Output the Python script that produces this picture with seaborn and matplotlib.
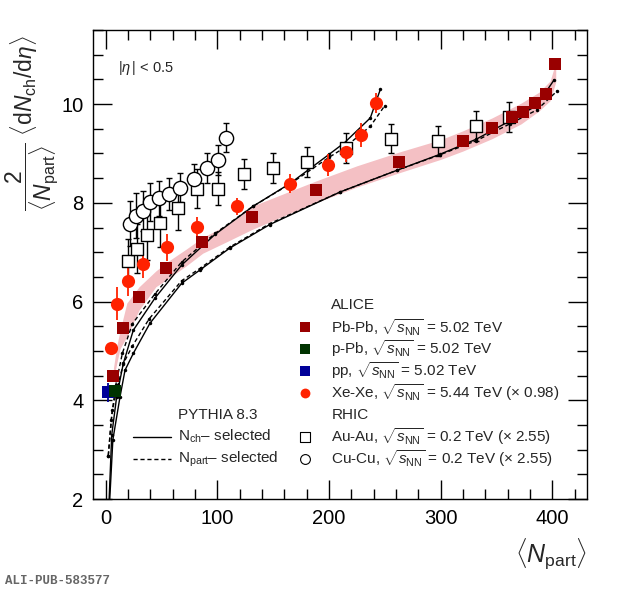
import matplotlib
matplotlib.use("Agg")
import matplotlib.pyplot as plt
import seaborn as sns
from matplotlib.ticker import MultipleLocator

# ALICE data points
pbpb_x = [7.0, 15.3, 30.2, 53.8, 86.6, 131.5, 188, 263, 320, 346, 364, 374, 384, 394, 402]
pbpb_y = [4.49, 5.47, 6.10, 6.67, 7.20, 7.71, 8.26, 8.83, 9.25, 9.51, 9.73, 9.84, 10.02, 10.20, 10.81]

ppb_x = [8.0]
ppb_y = [4.19]
ppb_err = [0.12]

pp_x = [2.0]
pp_y = [4.16]
pp_err = [0.2]

xexe_x = [4.8, 10.5, 19.8, 33.8, 54.7, 82.1, 117.9, 165, 199, 215, 229, 242]
xexe_y = [5.05, 5.96, 6.42, 6.77, 7.10, 7.51, 7.93, 8.39, 8.77, 9.03, 9.37, 10.02]
xexe_err = [0.1, 0.34, 0.3, 0.29, 0.27, 0.21, 0.17, 0.2, 0.22, 0.2, 0.24, 0.2]

# RHIC
auau_x = [19.8, 27.8, 36.8, 48.7, 65.1, 82.1, 100.9, 123.9, 150.1, 180, 214.9, 255.5, 297.3, 331.6, 361.5]
auau_y = [6.82, 7.07, 7.34, 7.60, 7.90, 8.29, 8.29, 8.58, 8.71, 8.83, 9.11, 9.30, 9.25, 9.55, 9.74]
auau_err = [0.45, 0.5, 0.5, 0.5, 0.45, 0.4, 0.34, 0.3, 0.3, 0.3, 0.3, 0.3, 0.3, 0.3, 0.31]

cucu_x = [21.8, 26.9, 33.2, 39.7, 47.8, 56.8, 66.6, 79.1, 90.5, 100.9, 107.8]
cucu_y = [7.58, 7.74, 7.83, 8.02, 8.09, 8.18, 8.31, 8.49, 8.71, 8.87, 9.32]
cucu_err = [0.45, 0.45, 0.4, 0.38, 0.35, 0.32, 0.3, 0.3, 0.3, 0.3, 0.3]

# pink band
band_x = [7, 10, 13, 19, 30, 45, 55, 72, 87, 111, 131, 160, 188, 225, 263, 300, 320, 346, 372, 388, 398, 403]
band_lo = [4.40, 4.75, 5.05, 5.29, 5.83, 6.30, 6.45, 6.72, 6.98, 7.24, 7.46, 7.74, 8.00, 8.32, 8.61,
           8.88, 9.05, 9.30, 9.60, 9.86, 10.07, 10.45]
band_hi = [4.65, 5.10, 5.42, 5.97, 6.30, 6.62, 6.80, 7.06, 7.30, 7.58, 7.93, 8.19, 8.44, 8.75, 9.03,
           9.28, 9.46, 9.72, 10.02, 10.24, 10.47, 10.85]

# PYTHIA 8.3 curves
xe_nch_x = [3.0, 5.5, 9.9, 15.8, 24.8, 44.2, 68.1, 98, 132, 165, 200, 214, 237, 246]
xe_nch_y = [1.9, 3.3, 4.07, 4.74, 5.42, 6.07, 6.74, 7.36, 7.93, 8.39, 8.98, 9.22, 9.72, 10.3]
xe_npart_x = [2.4, 5, 9, 15, 24, 44, 68, 98, 132, 165, 200, 214, 237, 250]
xe_npart_y = [2.88, 3.6, 4.3, 4.95, 5.55, 6.15, 6.8, 7.38, 7.93, 8.38, 8.92, 9.12, 9.55, 9.97]

pb_nch_x = [3.5, 6.5, 12.9, 17.4, 24.8, 39.7, 68.1, 84.5, 111, 147, 210, 261, 299, 332, 362, 386, 401.5]
pb_nch_y = [1.9, 3.2, 4.07, 4.61, 4.95, 5.56, 6.37, 6.64, 7.08, 7.56, 8.22, 8.66, 8.98, 9.29, 9.66, 9.97, 10.49]
pb_npart_x = [2.4, 6, 11, 16, 24, 39, 68, 85, 111, 147, 210, 261, 299, 332, 362, 386, 404.5]
pb_npart_y = [2.88, 3.8, 4.3, 4.75, 5.1, 5.65, 6.42, 6.68, 7.1, 7.58, 8.22, 8.66, 8.97, 9.26, 9.6, 9.88, 10.27]

sns.set_style("ticks")
plt.rcParams['font.family'] = ['Liberation Sans', 'DejaVu Sans']
plt.rcParams['mathtext.fontset'] = 'custom'
plt.rcParams['mathtext.rm'] = 'Liberation Sans'
plt.rcParams['mathtext.it'] = 'Liberation Sans:italic'
plt.rcParams['mathtext.bf'] = 'Liberation Sans:bold'

fig = plt.figure(figsize=(6.2, 5.9), dpi=100)
ax = fig.add_axes([0.1505, 0.1542, 0.7963, 0.7949])

ax.fill_between(band_x, band_lo, band_hi, color='#f4c0c4', lw=0, zorder=1)

for cx, cy, ls in [(xe_nch_x, xe_nch_y, '-'), (xe_npart_x, xe_npart_y, (0, (3, 2))),
                   (pb_nch_x, pb_nch_y, '-'), (pb_npart_x, pb_npart_y, (0, (3, 2)))]:
    sns.lineplot(x=cx, y=cy, ax=ax, color='black', lw=1, linestyle=ls, marker='o', ms=2.5,
                 markeredgewidth=0, sort=False, estimator=None, zorder=2)

# error bars
ax.errorbar(auau_x, auau_y, yerr=auau_err, fmt='none', ecolor='black', elinewidth=1, capsize=2, zorder=3)
ax.errorbar(cucu_x, cucu_y, yerr=cucu_err, fmt='none', ecolor='black', elinewidth=1, capsize=2, zorder=3)
ax.errorbar(xexe_x, xexe_y, yerr=xexe_err, fmt='none', ecolor='#ff2200', elinewidth=1.3, zorder=3)
ax.errorbar(pp_x, pp_y, yerr=pp_err, fmt='none', ecolor='#000099', elinewidth=1.3, zorder=3)
ax.errorbar(ppb_x, ppb_y, yerr=ppb_err, fmt='none', ecolor='#003300', elinewidth=1.3, zorder=3)

sns.scatterplot(x=auau_x, y=auau_y, ax=ax, marker='s', s=85, color='white', edgecolor='black', linewidth=1, zorder=4)
sns.scatterplot(x=cucu_x, y=cucu_y, ax=ax, marker='o', s=105, color='white', edgecolor='black', linewidth=1, zorder=4)
sns.scatterplot(x=xexe_x, y=xexe_y, ax=ax, marker='o', s=90, color='#ff2200', linewidth=0, zorder=5)
sns.scatterplot(x=pbpb_x, y=pbpb_y, ax=ax, marker='s', s=70, color='#990000', linewidth=0, zorder=5)
sns.scatterplot(x=pp_x, y=pp_y, ax=ax, marker='s', s=70, color='#000099', linewidth=0, zorder=5)
sns.scatterplot(x=ppb_x, y=ppb_y, ax=ax, marker='s', s=70, color='#003300', linewidth=0, zorder=5)

ax.set_xlim(-11, 431)
ax.set_ylim(2, 11.5)
ax.xaxis.set_major_locator(MultipleLocator(100))
ax.xaxis.set_minor_locator(MultipleLocator(20))
ax.yaxis.set_major_locator(MultipleLocator(2))
ax.yaxis.set_minor_locator(MultipleLocator(0.5))
ax.tick_params(which='both', direction='in', top=True, right=True, width=1, colors='black')
ax.tick_params(which='major', length=14, labelsize=14.5, pad=7)
ax.tick_params(which='minor', length=7)
for sp in ax.spines.values():
    sp.set_linewidth(1)
    sp.set_color('black')
ax.set_xlabel('')
ax.set_ylabel('')

fig.text(0.9468, 0.06, r'$\langle N_{\rm part}\rangle$', ha='right', va='center', fontsize=18)
fig.text(0.006, 0.94, r'$\dfrac{2}{\langle N_{\rm part}\rangle}\ \langle {\rm d}N_{\rm ch}/{\rm d}\eta\rangle$',
         rotation=90, ha='left', va='top', fontsize=16.5)

ax.text(0.051, 0.919, r'$|\eta\,|$ < 0.5', transform=ax.transAxes, fontsize=10.5, va='center')

# legend
mx, tx = 0.428, 0.482
rows = [0.414, 0.366, 0.320, 0.274, 0.226, 0.180, 0.133, 0.085]
labels = ['ALICE',
          r'Pb-Pb, $\sqrt{s_{\rm NN}}$ = 5.02 TeV',
          r'p-Pb, $\sqrt{s_{\rm NN}}$ = 5.02 TeV',
          r'pp, $\sqrt{s_{\rm NN}}$ = 5.02 TeV',
          r'Xe-Xe, $\sqrt{s_{\rm NN}}$ = 5.44 TeV ($\times$ 0.98)',
          'RHIC',
          r'Au-Au, $\sqrt{s_{\rm NN}}$ = 0.2 TeV ($\times$ 2.55)',
          r'Cu-Cu, $\sqrt{s_{\rm NN}}$ = 0.2 TeV ($\times$ 2.55)']
marks = [None, ('s', '#990000', '#990000'), ('s', '#003300', '#003300'), ('s', '#000099', '#000099'),
         ('o', '#ff2200', '#ff2200'), None, ('s', 'white', 'black'), ('o', 'white', 'black')]
for fy, lab, mk in zip(rows, labels, marks):
    ax.text(tx, fy, lab, transform=ax.transAxes, fontsize=11, va='center')
    if mk is not None:
        ax.scatter([mx], [fy], transform=ax.transAxes, marker=mk[0], s=50, facecolor=mk[1],
                   edgecolor=mk[2], linewidth=0.8 if mk[1] == 'white' else 0, zorder=6, clip_on=False)

ax.text(0.172, rows[5], 'PYTHIA 8.3', transform=ax.transAxes, fontsize=11, va='center')
ax.plot([0.081, 0.158], [rows[6]] * 2, transform=ax.transAxes, color='black', lw=1)
ax.plot([0.081, 0.158], [rows[7]] * 2, transform=ax.transAxes, color='black', lw=1, linestyle=(0, (3, 2)))
ax.text(0.172, rows[6], r'N$_{\rm ch}$– selected', transform=ax.transAxes, fontsize=11, va='center')
ax.text(0.172, rows[7], r'N$_{\rm part}$– selected', transform=ax.transAxes, fontsize=11, va='center')

fig.text(0.008, 0.015, 'ALI-PUB-583577', family='Liberation Mono', weight='bold', color='#666666',
         fontsize=9, va='center')

fig.savefig('out.png', dpi=100)
